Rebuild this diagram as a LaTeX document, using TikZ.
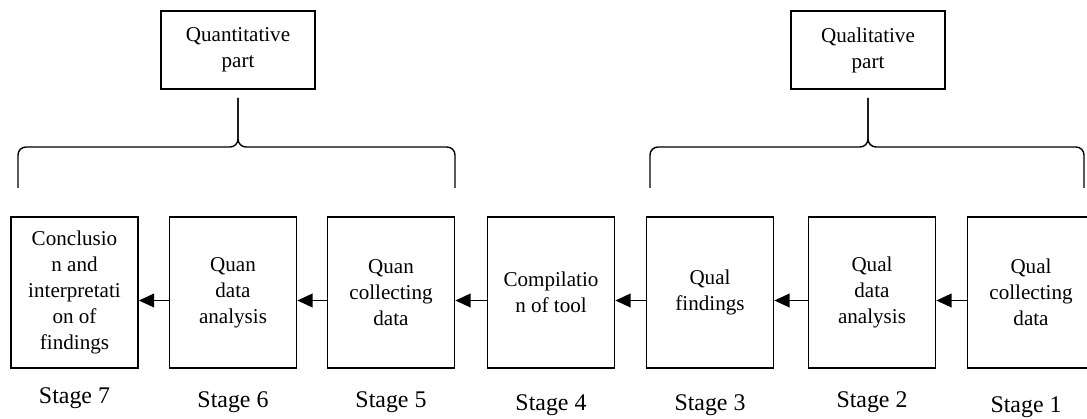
\documentclass[tikz,border=0pt]{standalone}
\usepackage{fontspec}
\setmainfont{Liberation Serif}
\usetikzlibrary{arrows.meta,positioning}
\newcommand{\boxfont}{\fontsize{15pt}{18.5pt}\selectfont}
\newcommand{\stagefont}{\fontsize{17pt}{20pt}\selectfont}

\begin{document}
\begin{tikzpicture}[
  >={Triangle[length=3.8mm,width=3.4mm]}, line width=1.2pt,
  stagebox/.style={rectangle,draw,minimum width=3.175cm,minimum height=3.775cm,align=center,font=\boxfont,inner sep=1pt},
  partbox/.style ={rectangle,draw,minimum width=3.85cm,minimum height=1.95cm,align=center,font=\boxfont,inner sep=1pt},
  stagelbl/.style={anchor=base,font=\stagefont},
  brace/.style={line width=1pt,rounded corners=2mm},
  flow/.style={->,line width=1.2pt},
]
\useasboundingbox (0,0) rectangle (27.175,10.45);

% --- the seven stages, right to left ---
\node[stagebox] (b7) at (1.8625,3.1375) {Conclusio\\n and\\interpretati\\on of\\findings};
\node[stagebox] (b6) at (5.825,3.1375)  {Quan\\data\\analysis};
\node[stagebox] (b5) at (9.775,3.1375)  {Quan\\collecting\\data};
\node[stagebox] (b4) at (13.775,3.1375) {Compilatio\\n of tool};
\node[stagebox] (b3) at (17.75,3.1375)  {Qual\\findings};
\node[stagebox] (b2) at (21.8,3.1375)   {Qual\\data\\analysis};
\node[stagebox] (b1) at (25.775,3.1375) {Qual\\collecting\\data};

% arrows run from each stage to the one before it
\draw[flow] ([yshift=-2mm]b1.west) -- ([yshift=-2mm]b2.east);
\draw[flow] ([yshift=-2mm]b2.west) -- ([yshift=-2mm]b3.east);
\draw[flow] ([yshift=-2mm]b3.west) -- ([yshift=-2mm]b4.east);
\draw[flow] ([yshift=-2mm]b4.west) -- ([yshift=-2mm]b5.east);
\draw[flow] ([yshift=-2mm]b5.west) -- ([yshift=-2mm]b6.east);
\draw[flow] ([yshift=-2mm]b6.west) -- ([yshift=-2mm]b7.east);

% stage numbers under the boxes
\node[stagelbl] (s7) at (1.8625,0.375) {Stage 7};
\node[stagelbl] (s6) at (5.825,0.275)  {Stage 6};
\node[stagelbl] (s5) at (9.775,0.275)  {Stage 5};
\node[stagelbl] (s4) at (13.775,0.2)   {Stage 4};
\node[stagelbl] (s3) at (17.75,0.2)    {Stage 3};
\node[stagelbl] (s2) at (21.8,0.275)   {Stage 2};
\node[stagelbl] (s1) at (25.65,0.15)   {Stage 1};

% --- the two parts and their braces ---
\node[partbox] (quan) at (5.95,9.2) {Quantitative\\part};
\node[partbox] (qual) at (21.7,9.2) {Qualitative\\part};
\coordinate (quantip) at ([yshift=-2mm]quan.south);
\coordinate (qualtip) at ([yshift=-2mm]qual.south);

\draw[brace] (0.45,5.75)   |- (quantip |- 0,6.775) -- (quantip);
\draw[brace] (11.375,5.75) |- (quantip |- 0,6.775) -- (quantip);
\draw[brace] (16.25,5.75)  |- (qualtip |- 0,6.775) -- (qualtip);
\draw[brace] (27.1,5.75)   |- (qualtip |- 0,6.775) -- (qualtip);
\end{tikzpicture}
\end{document}
